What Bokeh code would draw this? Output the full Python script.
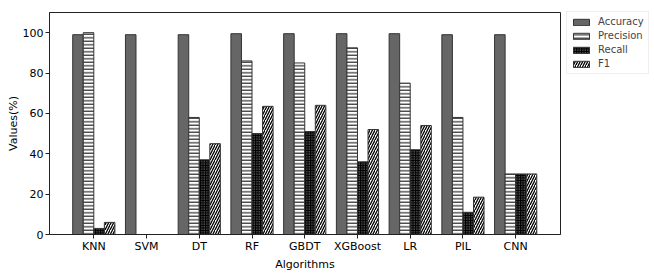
from bokeh.plotting import figure
from bokeh.models import ColumnDataSource, Legend, LegendItem, Range1d, FixedTicker
from bokeh.embed import file_html
from bokeh.resources import INLINE

algorithms = ["KNN", "SVM", "DT", "RF", "GBDT", "XGBoost", "LR", "PIL", "CNN"]
accuracy = [99, 99, 99, 99.5, 99.5, 99.5, 99.5, 99, 99]
precision = [100, 0, 58, 86, 85, 92.5, 75, 58, 30]
recall = [3, 0, 37, 50, 51, 36, 42, 11, 30]
f1 = [6, 0, 45, 63.5, 64, 52, 54, 18.5, 30]

series = [
    ("Accuracy", accuracy, dict(fill_color="#666666", hatch_pattern=None)),
    ("Precision", precision, dict(fill_color="white", hatch_pattern="horizontal_line", hatch_color="black", hatch_scale=3.5, hatch_weight=1)),
    ("Recall", recall, dict(fill_color="black", hatch_pattern="dot", hatch_color="#999999", hatch_scale=2.5, hatch_weight=1)),
    ("F1", f1, dict(fill_color="white", hatch_pattern="right_diagonal_line", hatch_color="black", hatch_scale=5, hatch_weight=1.3)),
]

FONT = "DejaVu Sans"

p = figure(output_backend="svg", toolbar_location=None,
           frame_width=511, frame_height=222,
           x_range=Range1d(-0.84, 8.85), y_range=Range1d(0, 110))
p.min_border_left = 49
p.min_border_top = 12
p.min_border_bottom = 39
p.min_border_right = 0

x = list(range(len(algorithms)))
offsets = [-0.3, -0.1, 0.1, 0.3]
items = []
for (name, vals, style), off in zip(series, offsets):
    src = ColumnDataSource(dict(x=[xi + off for xi in x], top=vals))
    kw = dict(style)
    hp = kw.pop("hatch_pattern")
    r = p.vbar(x="x", top="top", width=0.2, source=src, line_color="#333333", line_width=1,
               **({"hatch_pattern": hp} if hp else {}), **kw)
    items.append(LegendItem(label=name, renderers=[r]))

p.grid.visible = False
p.outline_line_color = "#222222"
p.outline_line_width = 1

p.xaxis.ticker = FixedTicker(ticks=x)
p.xaxis.major_label_overrides = {i: a for i, a in enumerate(algorithms)}
p.yaxis.ticker = FixedTicker(ticks=[0, 20, 40, 60, 80, 100])
p.xaxis.axis_label = "Algorithms"
p.yaxis.axis_label = "Values(%)"
for ax in (p.xaxis, p.yaxis):
    ax.axis_line_color = "#222222"
    ax.major_tick_line_color = "#222222"
    ax.major_tick_in = 0
    ax.major_tick_out = 4
    ax.minor_tick_line_color = None
    ax.major_label_text_font = FONT
    ax.major_label_text_font_size = "11px"
    ax.major_label_text_color = "black"
    ax.axis_label_text_font = FONT
    ax.axis_label_text_font_size = "11px"
    ax.axis_label_text_font_style = "normal"
    ax.axis_label_text_color = "black"
p.xaxis.axis_label_standoff = 2
p.yaxis.axis_label_standoff = 0
p.xaxis.major_label_standoff = 1
p.yaxis.major_label_standoff = 2

legend = Legend(items=items, location=(6, 160), padding=4, spacing=3,
                glyph_width=20, glyph_height=8, label_text_font=FONT,
                label_text_font_size="10px", label_standoff=7,
                border_line_color="#dddddd", border_line_width=1,
                label_height=11, margin=6)
p.add_layout(legend, "right")

open("out.html", "w").write(file_html(p, INLINE))
